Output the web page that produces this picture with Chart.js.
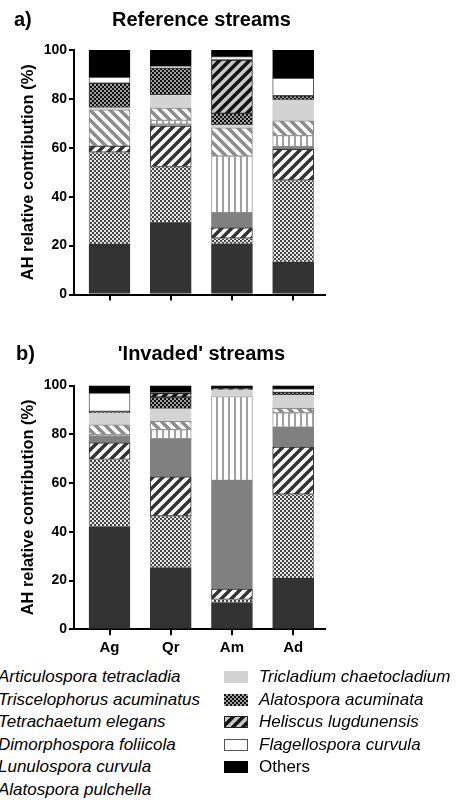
<!DOCTYPE html>
<html>
<head>
<meta charset="utf-8">
<script src="https://cdn.jsdelivr.net/npm/chart.js@4.4.1/dist/chart.umd.min.js"></script>
<style>
  body { margin: 0; background: #fff; width: 462px; height: 800px; overflow: hidden; position: relative;
         font-family: "Liberation Sans", Arial, sans-serif; }
  #wrapA { position: absolute; left: 0; top: 0; }
  #wrapB { position: absolute; left: 0; top: 310px; }
  .legend { position: absolute; top: 666px; font-size: 17px; line-height: 22.6px; color: #000; white-space: nowrap; }
  .legend div { height: 22.6px; }
  .legend .it { font-style: italic; }
  .legend canvas { vertical-align: -1px; margin-right: 11px; }
</style>
</head>
<body>
<div id="wrapA"><canvas id="chartA" width="462" height="310"></canvas></div>
<div id="wrapB"><canvas id="chartB" width="462" height="355"></canvas></div>
<div class="legend" id="legLeft" style="left:-2px"></div>
<div class="legend" id="legRight" style="left:224px"></div>

<script>
const streams = ['Ag', 'Qr', 'Am', 'Ad'];
const species = ['Articulospora tetracladia', 'Triscelophorus acuminatus', 'Tetrachaetum elegans',
  'Dimorphospora foliicola', 'Lunulospora curvula', 'Alatospora pulchella', 'Tricladium chaetocladium',
  'Alatospora acuminata', 'Heliscus lugdunensis', 'Flagellospora curvula', 'Others'];
const yTicks = [0, 20, 40, 60, 80, 100];

// a) Reference streams, values per stream (Ag, Qr, Am, Ad)
const refArticulospora = [20.5, 29.4, 20.6, 13.2];
const refTriscelophorus = [37.7, 22.9, 2.4, 33.6];
const refTetrachaetum = [2.5, 16.6, 4.3, 12.6];
const refDimorphospora = [0, 0.8, 6.2, 1.1];
const refLunulospora = [0, 1.5, 23.1, 4.5];
const refAlatPulchella = [14.8, 5.0, 11.6, 6.0];
const refTricladium = [0.9, 5.4, 1.1, 8.6];
const refAlatAcuminata = [10.0, 11.0, 4.8, 1.7];
const refHeliscus = [0, 0, 21.8, 0];
const refFlagellospora = [2.4, 0.8, 1.4, 7.1];
const refOthers = [11.2, 6.6, 2.7, 11.6];

// b) 'Invaded' streams
const invArticulospora = [42.0, 25.2, 10.9, 20.9];
const invTriscelophorus = [27.7, 21.3, 1.4, 34.5];
const invTetrachaetum = [6.8, 16.0, 4.2, 19.3];
const invDimorphospora = [3.0, 15.7, 44.6, 8.2];
const invLunulospora = [0.3, 3.7, 34.4, 5.9];
const invAlatPulchella = [4.1, 3.4, 0, 1.8];
const invTricladium = [4.8, 5.2, 2.7, 5.4];
const invAlatAcuminata = [0.7, 4.7, 0, 1.2];
const invHeliscus = [0, 1.6, 0.6, 0];
const invFlagellospora = [7.5, 0.3, 0, 1.4];
const invOthers = [3.1, 2.9, 1.2, 1.4];

const refSeries = [refArticulospora, refTriscelophorus, refTetrachaetum, refDimorphospora, refLunulospora,
  refAlatPulchella, refTricladium, refAlatAcuminata, refHeliscus, refFlagellospora, refOthers];
const invSeries = [invArticulospora, invTriscelophorus, invTetrachaetum, invDimorphospora, invLunulospora,
  invAlatPulchella, invTricladium, invAlatAcuminata, invHeliscus, invFlagellospora, invOthers];

// fill patterns, grey scale like the original figure
function makePattern(w, h, draw) {
  const c = document.createElement('canvas');
  c.width = w; c.height = h;
  const g = c.getContext('2d');
  draw(g);
  return g.createPattern(c, 'repeat');
}
function checker(dark, light) {
  return makePattern(4, 4, g => {
    g.fillStyle = light; g.fillRect(0, 0, 4, 4);
    g.fillStyle = dark; g.fillRect(0, 0, 2, 2); g.fillRect(2, 2, 2, 2);
  });
}
function hatch(bg, fg, lw, s, forward) {
  return makePattern(s, s, g => {
    g.fillStyle = bg; g.fillRect(0, 0, s, s);
    g.strokeStyle = fg; g.lineWidth = lw;
    g.beginPath();
    for (const k of [-s, 0, s, 2 * s]) {
      if (forward) { g.moveTo(-s, k + s); g.lineTo(k + s, -s); }
      else { g.moveTo(-s, -s - k); g.lineTo(2 * s, 2 * s - k); }
    }
    g.stroke();
  });
}
function vlines() {
  return makePattern(6, 6, g => {
    g.fillStyle = '#fff'; g.fillRect(0, 0, 6, 6);
    g.fillStyle = '#a0a0a0'; g.fillRect(0, 0, 2, 6);
  });
}

const fills = [
  '#333333',
  checker('#444444', '#e6e6e6'),
  hatch('#ffffff', '#333333', 3.5, 10, true),
  '#808080',
  vlines(),
  hatch('#ffffff', '#8c8c8c', 3.5, 10, false),
  '#d3d3d3',
  checker('#111111', '#a0a0a0'),
  hatch('#c8c8c8', '#111111', 3.5, 10, true),
  '#ffffff',
  '#000000'
];
const borders = ['#333333', '#888888', '#333333', '#808080', '#a0a0a0', '#8c8c8c', '#d3d3d3',
  '#333333', '#222222', '#555555', '#000000'];

Chart.defaults.font.family = '"Liberation Sans", Arial, sans-serif';
Chart.defaults.color = '#000';

const panelTitle = {
  id: 'panelTitle',
  afterDraw(chart, args, opts) {
    const ctx = chart.ctx;
    const a = chart.chartArea;
    ctx.save();
    ctx.fillStyle = '#000';
    ctx.font = 'bold 20px "Liberation Sans", Arial, sans-serif';
    ctx.textBaseline = 'middle';
    ctx.textAlign = 'left';
    ctx.fillText(opts.letter, opts.letterX, opts.y);
    ctx.textAlign = 'center';
    ctx.fillText(opts.text, (a.left + a.right) / 2 + 2, opts.y);
    ctx.restore();
  }
};

function makeChart(id, series, showLabels, title, padTop, xHeight, padBottom) {
  const datasets = series.map((vals, i) => ({
    label: species[i],
    data: vals.map((v, j) => ({ x: j, y: v })),
    backgroundColor: fills[i],
    borderColor: borders[i],
    borderWidth: 1,
    borderSkipped: false,
    barThickness: 41
  }));
  return new Chart(document.getElementById(id), {
    type: 'bar',
    data: { datasets },
    plugins: [panelTitle],
    options: {
      responsive: false,
      animation: false,
      layout: { padding: { left: 0, right: 137, top: padTop, bottom: padBottom } },
      plugins: {
        legend: { display: false },
        tooltip: { enabled: false },
        panelTitle: title
      },
      scales: {
        x: {
          type: 'linear',
          offset: false,
          stacked: true,
          min: -0.58,
          max: 3.52,
          afterFit: s => { s.height = xHeight; },
          afterBuildTicks: s => { s.ticks = streams.map((_, i) => ({ value: i })); },
          border: { color: '#000', width: 2 },
          grid: { offset: false, drawOnChartArea: false, color: '#000', lineWidth: 2, tickLength: 6 },
          ticks: {
            display: showLabels,
            autoSkip: false,
            maxRotation: 0,
            padding: 4,
            font: { size: 15, weight: 'bold' },
            callback: v => streams[v]
          }
        },
        y: {
          stacked: true,
          min: 0,
          max: 100,
          afterFit: s => { s.width = 74; },
          afterBuildTicks: s => { s.ticks = yTicks.map(v => ({ value: v })); },
          border: { color: '#000', width: 2 },
          grid: { drawOnChartArea: false, color: '#000', lineWidth: 2, tickLength: 5 },
          ticks: { padding: 2, font: { size: 14, weight: 'bold' } },
          title: {
            display: true,
            text: 'AH relative contribution (%)',
            font: { size: 16.4, weight: 'bold' },
            padding: { top: 19, bottom: 0 }
          }
        }
      }
    }
  });
}

makeChart('chartA', refSeries, false, { letter: 'a)', letterX: 14, y: 20, text: 'Reference streams' }, 50, 10, 5.5);
makeChart('chartB', invSeries, true, { letter: 'b)', letterX: 16, y: 44, text: "'Invaded' streams" }, 75.5, 35.7, 0);

// legend: left column swatches are cut off in the original figure
const legLeft = document.getElementById('legLeft');
const legRight = document.getElementById('legRight');
species.forEach((name, i) => {
  const row = document.createElement('div');
  if (i >= 6) {
    const sw = document.createElement('canvas');
    sw.width = 24; sw.height = 12;
    const g = sw.getContext('2d');
    g.fillStyle = fills[i];
    g.fillRect(0, 0, 24, 12);
    if (i === 8 || i === 9) {
      g.strokeStyle = borders[i];
      g.lineWidth = 1;
      g.strokeRect(0.5, 0.5, 23, 11);
    }
    row.appendChild(sw);
  }
  const t = document.createElement('span');
  t.textContent = name;
  if (name !== 'Others') t.className = 'it';
  row.appendChild(t);
  (i < 6 ? legLeft : legRight).appendChild(row);
});
</script>
</body>
</html>
